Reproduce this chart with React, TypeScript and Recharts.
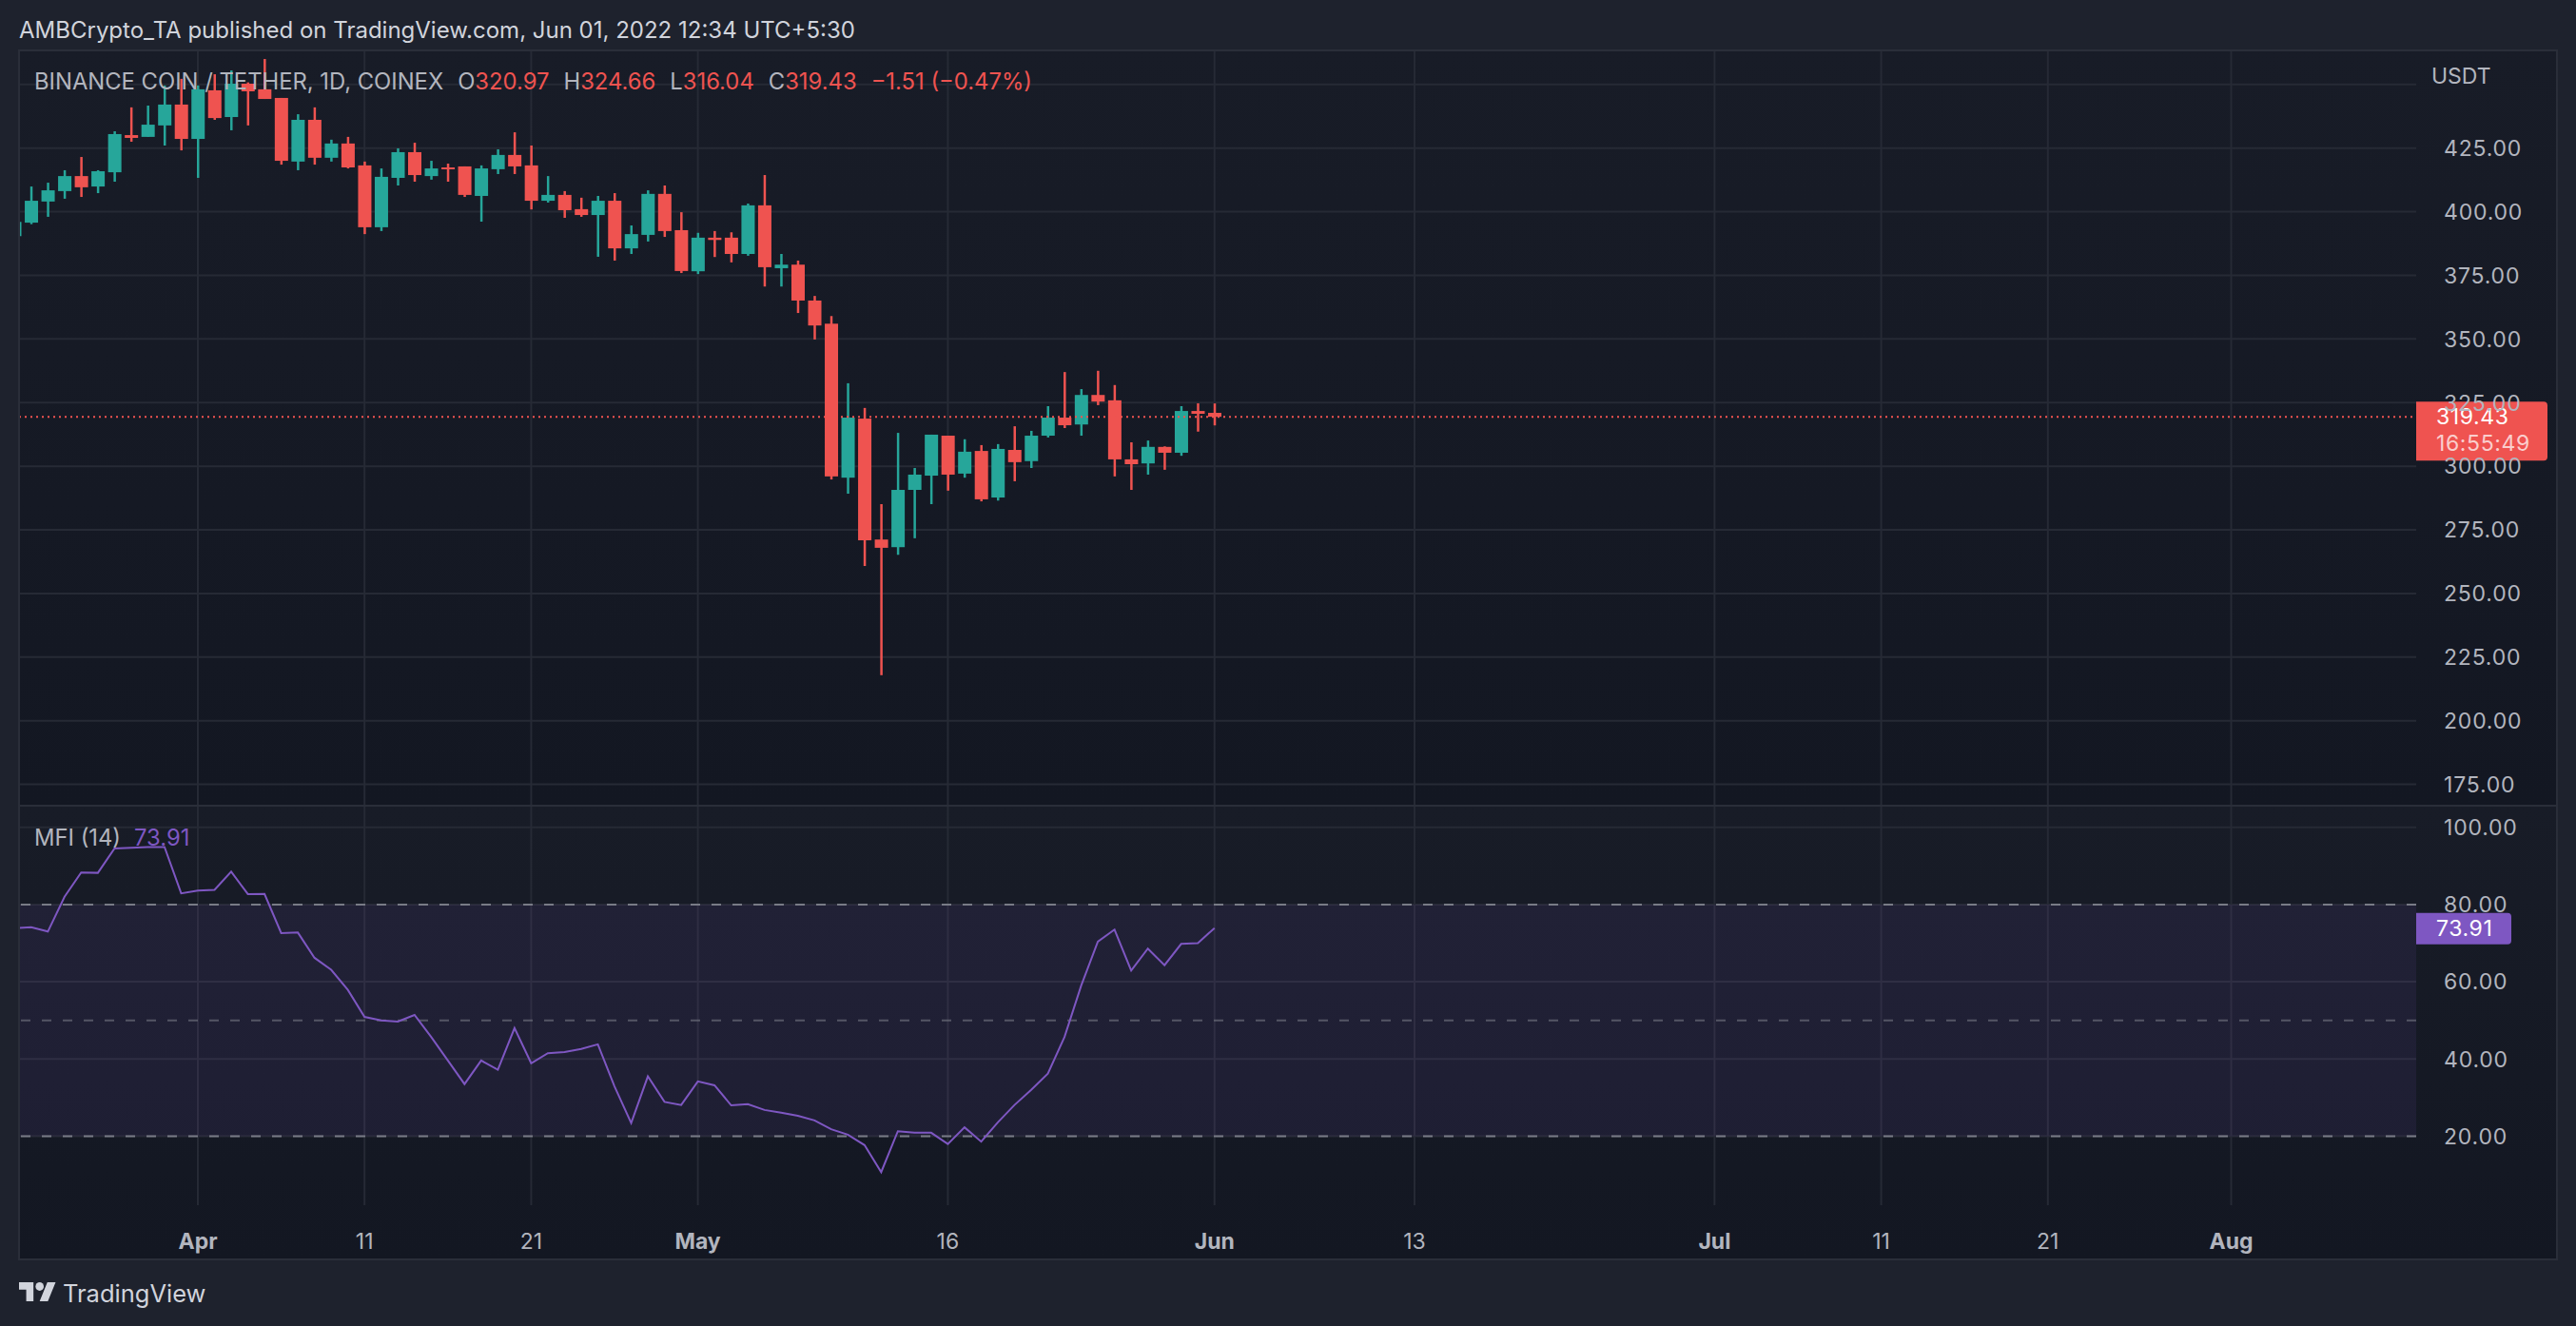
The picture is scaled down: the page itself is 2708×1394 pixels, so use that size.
import React from "react";
import { ComposedChart, Bar, Line, XAxis, YAxis, CartesianGrid, ReferenceLine, ReferenceArea } from "recharts";

const opens = [390.4,395.7,404.0,408.1,414.0,409.9,415.5,430.1,429.4,433.9,442.1,428.6,447.7,437.2,450.3,448.1,444.7,419.7,436.1,421.2,426.8,418.2,393.9,413.3,423.4,414.0,417.4,417.8,406.2,416.7,422.3,418.2,404.3,406.6,401.0,398.7,404.3,385.6,390.9,407.0,392.75,376.6,389.8,389.8,383.4,402.5,377.8,379.2,365.1,356.0,295.5,318.7,271.2,268.2,290.7,296.3,312.0,297.1,306.0,287.7,306.4,302.0,312.0,319.1,316.4,328.0,325.9,302.7,301.1,307.6,305.3,321.7,320.97];
const highs = [396,409.9,411.4,416.3,421.5,416.3,431.6,441.0,441.7,449.6,452.2,449.6,454.0,455.5,450.8,460.0,444.7,438.3,441.0,428.3,429.4,419.7,417.0,424.9,427.1,420.0,418.9,417.8,418.2,424.5,431.2,426.0,414.0,408.1,405.5,406.2,407.3,394.6,408.4,410.3,399.8,391.7,392.4,391.9,403.2,414.4,383.4,380.8,366.9,359.0,332.6,322.9,285.1,313.1,299.3,312.4,312.0,310.6,308.3,308.7,315.7,313.9,323.6,337.0,330.3,337.5,331.9,309.4,310.1,307.8,323.6,324.7,324.66];
const lows = [390.4,395.1,398.0,405.1,405.8,407.3,411.8,427.5,429.4,426.0,424.1,413.3,436.1,432.0,433.9,444.3,418.5,416.3,418.5,419.7,417.0,391.2,392.4,410.3,411.8,412.6,411.8,405.8,396.1,414.8,414.8,400.9,403.6,397.6,398.0,382.3,380.8,383.4,388.3,390.1,375.9,375.5,382.2,380.1,382.7,370.6,370.6,360.2,349.8,294.8,289.2,260.8,217.9,265.2,271.7,285.1,290.4,295.5,286.2,286.5,294.1,299.3,311.3,315.0,312.0,324.0,296.0,290.7,296.7,298.6,304.1,313.6,316.04];
const closes = [396,404.3,408.4,414.0,409.6,415.9,430.5,429.0,434.2,442.1,428.6,448.1,436.8,450.3,447.3,444.3,420.0,436.1,421.2,426.8,417.4,393.9,413.7,423.4,414.4,417.0,416.7,406.6,417.0,422.3,417.8,404.3,406.6,400.6,398.7,404.3,385.6,391.2,407.0,392.4,376.7,389.8,388.9,383.4,402.5,378.2,379.2,365.1,355.3,296.0,319.1,270.9,267.95,290.7,296.7,312.4,296.7,305.7,287.0,306.8,301.6,312.0,319.1,316.1,328.0,325.4,302.7,300.8,307.6,305.3,321.7,320.6,319.43];
const mfiValues = [73.9,74.1,73.0,82.0,88.3,88.2,94.5,94.7,94.9,94.9,82.9,83.6,83.8,88.5,82.7,82.75,72.6,72.75,66.2,63.1,57.9,50.9,50.0,49.7,51.4,45.7,39.6,33.5,39.6,37.2,48.0,38.9,41.5,41.8,42.6,43.8,32.9,23.4,35.5,28.9,28.1,34.2,33.2,28.0,28.3,26.8,26.1,25.3,24.1,21.8,20.4,17.7,10.7,21.3,20.9,20.9,18.0,22.3,18.6,23.6,28.1,32.0,36.2,45.7,59.0,70.4,73.5,62.9,68.6,64.3,69.8,70.0,73.91];

const timeTicks = [11,21,31,41,56,72,84,102,112,122,133];
const timeLabels = ["Apr","11","21","May","16","Jun","13","Jul","11","21","Aug"];
const monthLabels = ["Apr","May","Jun","Jul","Aug"];
const priceTicks = [175,200,225,250,275,300,325,350,375,400,425,450];
const mfiTicks = [20,40,60,80,100];
const hiddenPriceLabels = [450];

const lastPrice = 319.43;
const lastMfi = 73.91;
const countdown = "16:55:49";
const titleText = "AMBCrypto_TA published on TradingView.com, Jun 01, 2022 12:34 UTC+5:30";
const symbolText = "BINANCE COIN / TETHER, 1D, COINEX";
const legendPairs = [["O","320.97"],["H","324.66"],["L","316.04"],["C","319.43"]];
const changeText = "−1.51 (−0.47%)";

const candleData = opens.map((o, i) => ({ i, open: o, high: highs[i], low: lows[i], close: closes[i] }));
const mfiData = mfiValues.map((v, i) => ({ i, mfi: v }));

const FONT = "Inter, 'Noto Sans', sans-serif";
const UP = "#26a69a";
const DOWN = "#ef5350";
const PURPLE = "#7e57c2";
const GRID = "#262a35";
const AXIS_TEXT = "#b2b5be";
const FRAME = "#1e222d";
const BORDER = "#2a2e39";
const X_DOMAIN: [number, number] = [0.27, 144.1];
const FONT_SIZE = 23;

function Candle(props: any) {
  const { x, y, width, height, payload } = props;
  const h = Math.abs(height);
  const top = height < 0 ? y + height : y;
  const k = h / (payload.high - payload.low);
  const cx = x + width / 2;
  const bodyHi = Math.max(payload.open, payload.close);
  const bodyLo = Math.min(payload.open, payload.close);
  const by = top + (payload.high - bodyHi) * k;
  const bh = Math.max((bodyHi - bodyLo) * k, 2);
  const color = payload.close >= payload.open ? UP : DOWN;
  return (
    <g>
      <rect x={cx - 1.25} y={top} width={2.5} height={h} fill={color} />
      <rect x={x} y={by} width={width} height={bh} fill={color} />
    </g>
  );
}

function PriceTick(props: any) {
  const { x, y, payload } = props;
  if (hiddenPriceLabels.includes(payload.value)) return null;
  return (
    <text x={x + 21} y={y} dy="0.36em" fill={AXIS_TEXT} fontFamily={FONT} fontSize={FONT_SIZE} letterSpacing={0.8} textAnchor="start">
      {payload.value.toFixed(2)}
    </text>
  );
}

function TimeTick(props: any) {
  const { x, y, payload, index } = props;
  const label = timeLabels[timeTicks.indexOf(payload.value)] ?? timeLabels[index];
  const bold = monthLabels.includes(label);
  return (
    <text x={x} y={y + 30} dy="0.36em" fill={AXIS_TEXT} fontFamily={FONT} fontSize={FONT_SIZE} fontWeight={bold ? 700 : 400} textAnchor="middle">
      {label}
    </text>
  );
}

function LastPriceLine(props: any) {
  const { x1, x2, y1 } = props;
  const lo = Math.min(x1, x2);
  const hi = Math.max(x1, x2);
  return (
    <g>
      <line x1={lo} x2={hi} y1={y1} y2={y1} stroke={DOWN} strokeWidth={2} strokeDasharray="2 4" />
      <path d={`M${hi} ${y1 - 16}h134a4 4 0 0 1 4 4v54a4 4 0 0 1 -4 4h-134z`} fill={DOWN} />
      <text x={hi + 21} y={y1} dy="0.36em" fill="#fff" fontFamily={FONT} fontSize={FONT_SIZE} letterSpacing={0.6}>{lastPrice.toFixed(2)}</text>
      <text x={hi + 21} y={y1 + 28} dy="0.36em" fill="rgba(255,255,255,0.72)" fontFamily={FONT} fontSize={FONT_SIZE} letterSpacing={0.6}>{countdown}</text>
    </g>
  );
}

function LastMfiLine(props: any) {
  const { x1, x2, y1 } = props;
  const hi = Math.max(x1, x2);
  return (
    <g>
      <path d={`M${hi} ${y1 - 16}h96a4 4 0 0 1 4 4v25a4 4 0 0 1 -4 4h-96z`} fill={PURPLE} />
      <text x={hi + 21} y={y1} dy="0.36em" fill="#fff" fontFamily={FONT} fontSize={FONT_SIZE} letterSpacing={0.6}>{lastMfi.toFixed(2)}</text>
    </g>
  );
}

const abs = (left: number, top: number, extra: React.CSSProperties = {}): React.CSSProperties => ({
  position: "absolute", left, top, fontFamily: FONT, whiteSpace: "pre", lineHeight: 1, ...extra,
});

export default function App() {
  return (
    <div style={{ position: "absolute", left: 0, top: 0, width: 2708, height: 1394, background: FRAME, overflow: "hidden" }}>
      <div style={abs(20, 20, { fontSize: 24, color: "#d1d4dc" })}>{titleText}</div>

      {/* pane backgrounds */}
      <div style={{ position: "absolute", left: 19, top: 52, width: 2669, height: 794, background: "linear-gradient(#181c27,#131722)" }} />
      <div style={{ position: "absolute", left: 19, top: 848, width: 2669, height: 475, background: "linear-gradient(#181c27,#131722)" }} />

      {/* price pane */}
      <div style={{ position: "absolute", left: 20, top: 54 }}>
        <ComposedChart width={2668} height={792} data={candleData} margin={{ top: 0, right: 0, bottom: 0, left: 0 }}>
          <CartesianGrid stroke={GRID} strokeWidth={2} horizontalValues={priceTicks} verticalValues={timeTicks} />
          <XAxis dataKey="i" type="number" domain={X_DOMAIN} allowDataOverflow ticks={timeTicks} hide />
          <YAxis orientation="right" width={148} domain={[167, 463]} allowDataOverflow ticks={priceTicks} interval={0} axisLine={false} tickLine={false} tick={<PriceTick />} />
          <Bar dataKey={(d: any) => [d.low, d.high]} barSize={14} shape={<Candle />} isAnimationActive={false} />
          <ReferenceLine y={lastPrice} shape={<LastPriceLine />} ifOverflow="visible" />
        </ComposedChart>
      </div>

      {/* MFI pane */}
      <div style={{ position: "absolute", left: 20, top: 848 }}>
        <ComposedChart width={2668} height={475} data={mfiData} margin={{ top: 0, right: 0, bottom: 0, left: 0 }}>
          <CartesianGrid stroke={GRID} strokeWidth={2} horizontalValues={mfiTicks} verticalValues={timeTicks} />
          <XAxis dataKey="i" type="number" domain={X_DOMAIN} allowDataOverflow ticks={timeTicks} interval={0} height={56} axisLine={false} tickLine={false} tick={<TimeTick />} />
          <YAxis orientation="right" width={148} domain={[2.14, 105.35]} allowDataOverflow ticks={mfiTicks} interval={0} axisLine={false} tickLine={false} tick={<PriceTick />} />
          <ReferenceArea y1={20} y2={80} fill={PURPLE} fillOpacity={0.1} stroke="none" />
          <ReferenceLine y={80} stroke="#787b86" strokeWidth={2} strokeDasharray="10 12" />
          <ReferenceLine y={50} stroke="rgba(120,123,134,0.6)" strokeWidth={2} strokeDasharray="10 12" />
          <ReferenceLine y={20} stroke="#787b86" strokeWidth={2} strokeDasharray="10 12" />
          <Line dataKey="mfi" type="linear" stroke={PURPLE} strokeWidth={2} dot={false} activeDot={false} isAnimationActive={false} />
          <ReferenceLine y={lastMfi} shape={<LastMfiLine />} ifOverflow="visible" />
        </ComposedChart>
      </div>

      {/* legends */}
      <div style={abs(36, 74, { fontSize: 23.8, color: AXIS_TEXT })}>
        {symbolText}
        {legendPairs.map(([k, v]) => (
          <span key={k} style={{ marginLeft: 15 }}>{k}<span style={{ color: DOWN }}>{v}</span></span>
        ))}
        <span style={{ color: DOWN, marginLeft: 15 }}>{changeText}</span>
      </div>
      <div style={abs(36, 869, { fontSize: 23.8, color: AXIS_TEXT })}>
        {"MFI (14)"}<span style={{ color: PURPLE, marginLeft: 14 }}>{lastMfi.toFixed(2)}</span>
      </div>
      <div style={abs(2556, 69, { fontSize: 23, color: AXIS_TEXT })}>USDT</div>

      {/* frame */}
      <div style={{ position: "absolute", left: 19, top: 52, width: 2666, height: 1269, border: `2px solid ${BORDER}`, boxSizing: "content-box", pointerEvents: "none" }} />
      <div style={{ position: "absolute", left: 19, top: 846, width: 2669, height: 2, background: BORDER }} />

      {/* brand */}
      <svg style={{ position: "absolute", left: 20, top: 1348 }} width={39} height={20} viewBox="0 4 36 18" preserveAspectRatio="none" fill="#d1d4dc">
        <path d="M14 22H7V11H0V4h14v18zM28 22h-8l7.5-18h8L28 22z" />
        <circle cx="20" cy="8" r="4" />
      </svg>
      <div style={abs(66, 1347, { fontSize: 25.5, color: "#d1d4dc" })}>TradingView</div>
    </div>
  );
}
